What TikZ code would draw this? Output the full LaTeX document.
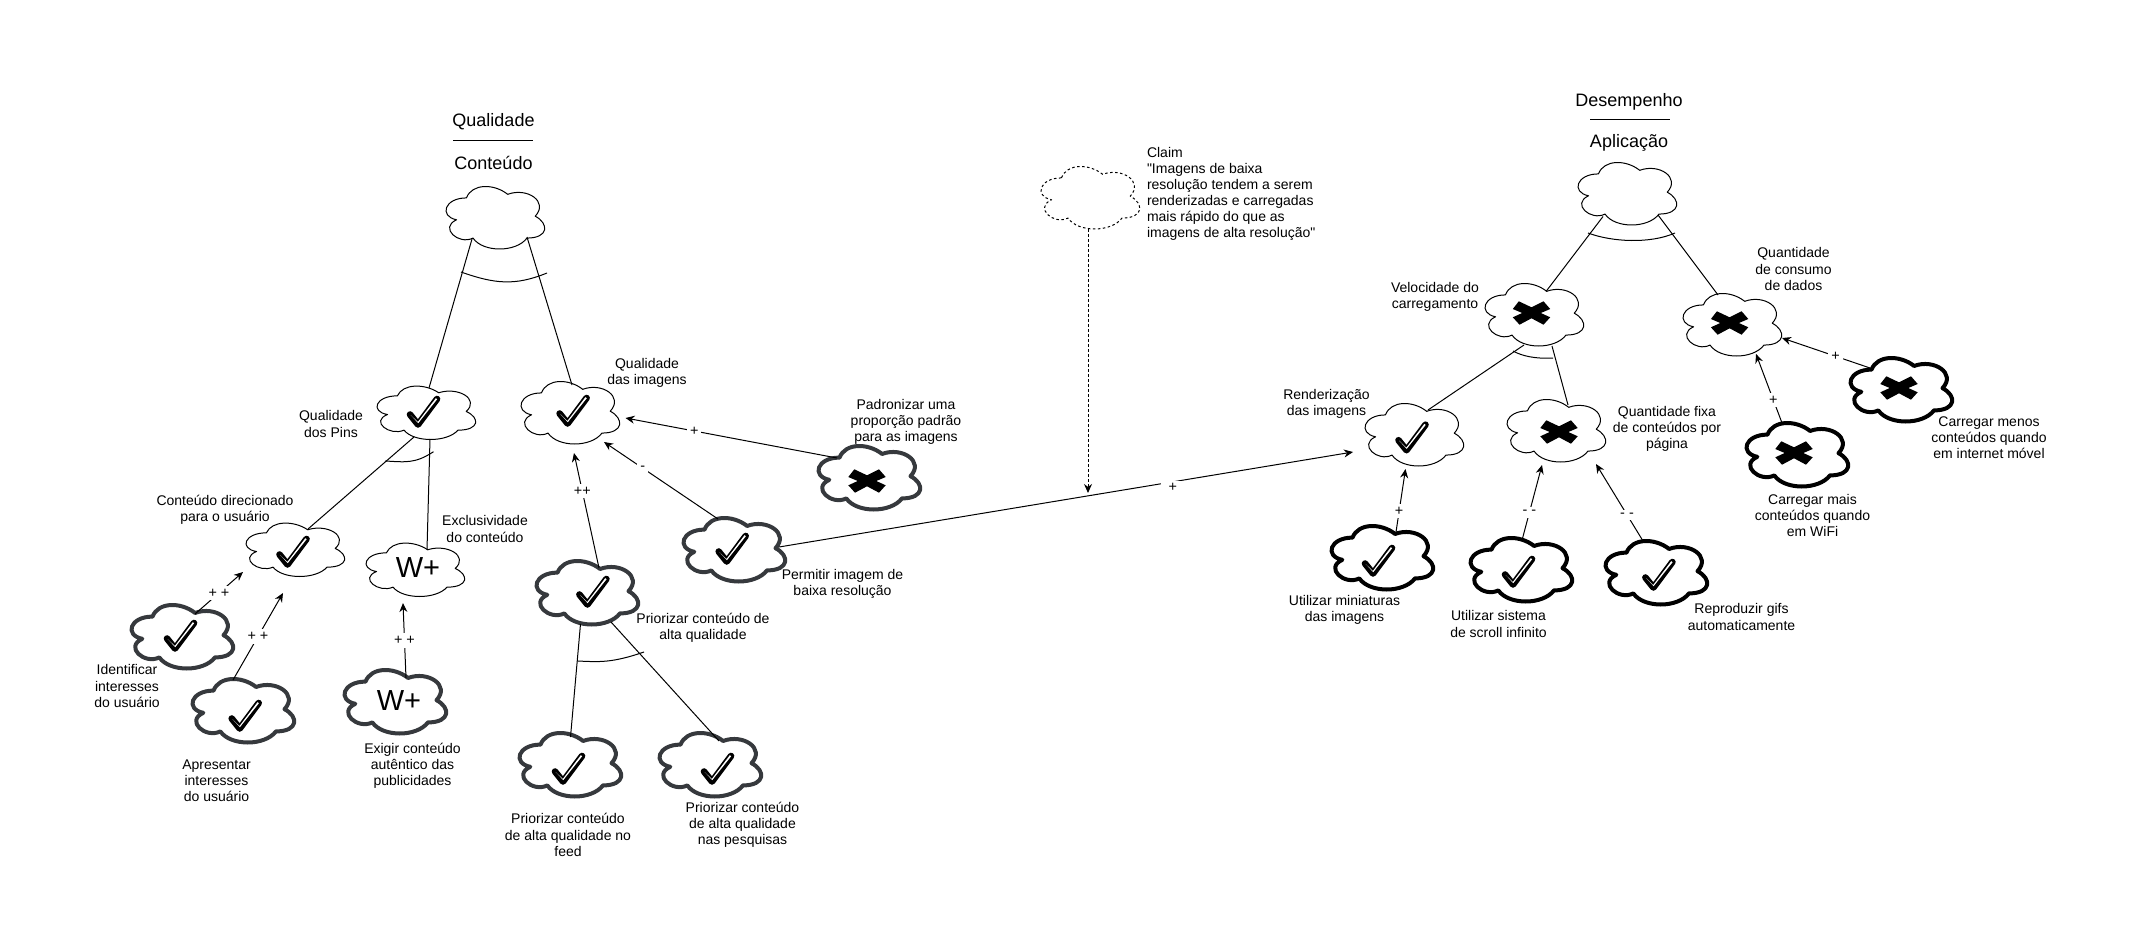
\documentclass[tikz,border=0pt]{standalone}
\usepackage{fontspec}
\setmainfont{Liberation Sans}
\newfontfamily\claimfont{Liberation Sans}
\usetikzlibrary{arrows.meta}
\definecolor{taskgrey}{HTML}{36393D}
\makeatletter
\def\cloudcurve#1#2#3#4#5#6{\pgfpathcurveto{\pgfqpoint{#1pt}{#2pt}}{\pgfqpoint{#3pt}{#4pt}}{\pgfqpoint{#5pt}{#6pt}}}
\pgfdeclareshape{softcloud}{
	\inheritsavedanchors[from=rectangle]
	\inheritanchor[from=rectangle]{center}
	\inheritanchor[from=rectangle]{text}
	\inheritanchorborder[from=rectangle]
	\backgroundpath{
		\southwest \pgf@xa=\pgf@x \pgf@ya=\pgf@y
		\northeast \pgf@xb=\pgf@x \pgf@yb=\pgf@y
		\advance\pgf@xb by-\pgf@xa \pgf@xb=.01\pgf@xb \edef\cloudw{\pgf@sys@tonumber\pgf@xb}
		\advance\pgf@yb by-\pgf@ya \pgf@yb=.01\pgf@yb \edef\cloudh{\pgf@sys@tonumber\pgf@yb}
		{
			\pgftransformshift{\pgfpointlineattime{.5}{\southwest}{\northeast}}
			\pgftransformxscale{\cloudw}
			\pgftransformyscale{\cloudh}
			\pgftransformxshift{1.2pt}
			\pgfpathmoveto{\pgfqpoint{-30.7pt}{32.4pt}}
			\cloudcurve{-53.4}{32.4}{-59.1}{2.9}{-40.9}{-2.9}
			\cloudcurve{-59.1}{-15.9}{-38.6}{-44.1}{-23.9}{-32.4}
			\cloudcurve{-13.6}{-55.9}{20.5}{-55.9}{31.8}{-32.4}
			\cloudcurve{54.5}{-32.4}{54.5}{-8.8}{40.3}{2.9}
			\cloudcurve{54.5}{26.5}{31.8}{50}{11.9}{38.2}
			\cloudcurve{-2.3}{55.9}{-25}{55.9}{-30.7}{32.4}
			\pgfpathclose
		}
	}
}
\makeatother
\tikzset{softgoal/.style = {shape=softcloud, draw, fill=white, line width=1pt, line join=round, inner sep=0pt, minimum width=96pt, minimum height=61pt}}
\tikzset{softlow/.style = {softgoal, minimum height=52pt}}
\tikzset{softclaim/.style = {softgoal, dashed, dash pattern=on 2.5pt off 2.5pt}}
\tikzset{taskleft/.style = {softgoal, draw=taskgrey, line width=4pt, minimum width=96pt, minimum height=59pt}}
\tikzset{taskright/.style = {softgoal, line width=4pt, minimum width=96pt, minimum height=59pt}}
\tikzset{lbl/.style = {align=center, inner sep=0pt, font=\fontsize{14}{16.1}\selectfont}}
\tikzset{heading/.style = {inner sep=0pt, font=\fontsize{18}{20}\selectfont}}
\tikzset{sign/.style = {fill=white, inner sep=3pt, font=\fontsize{14.4}{15}\selectfont}}
\tikzset{bigmark/.style = {inner sep=0pt, font=\fontsize{29}{30}\selectfont}}
\tikzset{tickmark/.pic = {
	\draw[line width=6.6pt, line join=round, line cap=round] (-14,2.5) -- (-6,12.5) -- (13,-13);
	\fill[white] (-13.3,3) -- (-6.2,10) -- (11.8,-13.8) -- (13.2,-12.8) -- (-5.8,11.2) -- cycle;
}}
\tikzset{crossmark/.pic = {
	\fill (-12.7,-11.7) -- (-18.7,-4) -- (-9.3,0) -- (-18.7,4.3) -- (-12,11.7) -- (0,5.3) -- (12,11.7) -- (18.7,4.3) -- (9.3,0) -- (18.7,-4) -- (12,-11.7) -- (0,-5.7) -- cycle;
}}
\begin{document}
\begin{tikzpicture}[x=1pt, y=-1pt, line width=1pt, >={Stealth[length=9pt,width=8pt]}]
	\useasboundingbox (0,0) rectangle (2144,947);
	% Qualidade
	\node [heading] (qual-top) at (493.5,122) {Qualidade};
	\node [heading] (qual-bot) at (493.5,162.5) {Conteúdo};
	\coordinate (qual-a) at (453,141);
	\coordinate (qual-b) at (533,141);
	\draw (qual-a) -- (qual-b);
	\node [softgoal] (root-q) at (495,218) {};
	\node [softlow] (pins) at (426,413) {};
	\node [softgoal] (imgs) at (570,413) {};
	\draw ([shift={(-23,21)}]root-q.center) -- ([shift={(3,-25)}]pins.center);
	\draw ([shift={(32,19)}]root-q.center) -- ([shift={(2,-28)}]imgs.center);
	\draw (461,272) .. controls (495,284) and (515,286) .. (547,273);
	\node [lbl] (pins-txt) at (331,424) {Qualidade\\dos Pins};
	\node [lbl] (imgs-txt) at (647,372.5) {Qualidade\\das imagens};
	% Qualidade dos Pins
	\node [softlow] (direc) at (295,550) {};
	\node [softlow] (excl) at (415,570) {};
	\node [bigmark] (excl-mark) at (418,568) {W+};
	\draw ([shift={(-12,24)}]pins.center) -- ([shift={(13,-21)}]direc.center);
	\draw ([shift={(4,26)}]pins.center) -- ([shift={(12,-20)}]excl.center);
	\draw (385,461) .. controls (405,462) and (415,464) .. (433.5,451.7);
	\node [lbl] (direc-txt) at (225,509.5) {Conteúdo direcionado\\para o usuário};
	\node [lbl] (excl-txt) at (485,529) {Exclusividade\\do conteúdo};
	% Tarefas dos Pins
	\node [taskleft] (ident) at (182,637) {};
	\node [taskleft] (apres) at (243,711) {};
	\node [taskleft] (exig) at (395,702) {};
	\node [bigmark] (exig-mark) at (399,701) {W+};
	\draw[->] ([shift={(13,-23)}]ident.center) -- node[sign] {+ +} ([shift={(-52,22)}]direc.center);
	\draw[->] ([shift={(-10,-31)}]apres.center) -- node[sign] {+ +} ([shift={(-12,43)}]direc.center);
	\draw[->] ([shift={(11,-24)}]exig.center) -- node[sign] {+ +} ([shift={(-12,33)}]excl.center);
	\node [lbl] (ident-txt) at (127,686) {Identificar\\interesses\\do usuário};
	\node [lbl] (apres-txt) at (216.5,781) {Apresentar\\interesses\\do usuário};
	\node [lbl] (exig-txt) at (412.5,766) {Exigir conteúdo\\autêntico das\\publicidades};
	% Qualidade das imagens
	\node [taskleft] (alta) at (587,593) {};
	\node [taskleft] (perm) at (734,550) {};
	\node [taskleft] (padr) at (869,478) {};
	\draw[->] ([shift={(-32,-20)}]padr.center) -- node[sign, pos=.675] {+} ([shift={(55.5,5)}]imgs.center);
	\draw[->] ([shift={(-16,-31)}]perm.center) -- node[sign, pos=.66] {-} ([shift={(34,29)}]imgs.center);
	\draw[->] ([shift={(12,-25)}]alta.center) -- node[sign, pos=.67] {++} ([shift={(4,40)}]imgs.center);
	\node [lbl] (alta-txt) at (703,628) {Priorizar conteúdo de\\alta qualidade};
	\node [lbl] (perm-txt) at (842.5,584) {Permitir imagem de\\baixa resolução};
	\node [lbl] (padr-txt) at (906,421.5) {Padronizar uma\\proporção padrão\\para as imagens};
	% Priorizar conteúdo
	\node [taskleft] (feed) at (570,765) {};
	\node [taskleft] (pesq) at (710,765) {};
	\draw ([shift={(-6.5,31)}]alta.center) -- ([shift={(.5,-28)}]feed.center);
	\draw ([shift={(24,29)}]alta.center) -- ([shift={(9,-24)}]pesq.center);
	\draw (577.5,661) .. controls (600,662) and (612,663) .. (644,652);
	\node [lbl] (feed-txt) at (568,835) {Priorizar conteúdo\\de alta qualidade no\\feed};
	\node [lbl] (pesq-txt) at (742.5,825) {Priorizar conteúdo\\de alta qualidade\\nas pesquisas};
	% Claim
	\node [softclaim] (claim) at (1090,198) {};
	\coordinate (claim-end) at (1088,493);
	\draw[->, dashed, dash pattern=on 2.5pt off 2.5pt] ([shift={(-2,31)}]claim.center) -- (claim-end);
	\node [lbl, align=left, anchor=west] (claim-txt) at (1146.5,194) {\claimfont Claim\\\claimfont "Imagens de baixa\\\claimfont resolução tendem a serem\\\claimfont renderizadas e carregadas\\\claimfont mais rápido do que as\\\claimfont imagens de alta resolução"};
	% Desempenho
	\node [heading] (des-top) at (1629,102) {Desempenho};
	\node [heading] (des-bot) at (1629,143) {Aplicação};
	\coordinate (des-a) at (1590,120);
	\coordinate (des-b) at (1670,120);
	\draw (des-a) -- (des-b);
	\node [softgoal] (root-d) at (1627,194) {};
	\node [softgoal] (veloc) at (1534,315) {};
	\node [softgoal] (cons) at (1732,325) {};
	\draw ([shift={(-24,22.5)}]root-d.center) -- ([shift={(12,-23.5)}]veloc.center);
	\draw ([shift={(31,21)}]root-d.center) -- ([shift={(-14,-30)}]cons.center);
	\draw (1588,233) .. controls (1612,242) and (1650,244) .. (1675,233);
	\node [lbl] (veloc-txt) at (1435,296.5) {Velocidade do\\carregamento};
	\node [lbl] (cons-txt) at (1793.5,269) {Quantidade\\de consumo\\de dados};
	% Velocidade do carregamento
	\node [softgoal] (rend) at (1414,435) {};
	\node [softgoal] (qtd) at (1556,431) {};
	\draw ([shift={(-10,30)}]veloc.center) -- ([shift={(14,-25)}]rend.center);
	\draw ([shift={(18,31)}]veloc.center) -- ([shift={(12,-26)}]qtd.center);
	\draw (1513,351) .. controls (1522,356) and (1535,359) .. (1553,358);
	\node [lbl] (rend-txt) at (1326.5,404) {Renderização\\das imagens};
	\node [lbl] (qtd-txt) at (1667,429) {Quantidade fixa\\de conteúdos por\\página};
	% Tarefas de desempenho
	\node [taskright] (mini) at (1382,558) {};
	\node [taskright] (scroll) at (1521,570) {};
	\node [taskright] (gifs) at (1656,573) {};
	\node [taskright] (mais) at (1797,455) {};
	\node [taskright] (menos) at (1901,390) {};
	\draw[->] ([shift={(45,-3)}]perm.center) -- node[sign, pos=.686, yshift=-6pt, minimum width=24pt] {+} ([shift={(-61,17)}]rend.center);
	\draw[->] ([shift={(14,-26)}]mini.center) -- node[sign, pos=.33] {+} ([shift={(-8.5,34)}]rend.center);
	\draw[->] ([shift={(1.6,-32)}]scroll.center) -- node[sign, pos=.35] {- -} ([shift={(-14,34)}]qtd.center);
	\draw[->] ([shift={(-13,-32)}]gifs.center) -- node[sign, pos=.34] {- -} ([shift={(40,33)}]qtd.center);
	\draw[->] ([shift={(-15,-32)}]mais.center) -- node[sign, pos=.33] {+} ([shift={(24,29)}]cons.center);
	\draw[->] ([shift={(-31,-22)}]menos.center) -- node[sign, pos=.39] {+} ([shift={(50,13)}]cons.center);
	\node [lbl] (mini-txt) at (1344.5,610) {Utilizar miniaturas\\das imagens};
	\node [lbl] (scroll-txt) at (1498.5,624) {Utilizar sistema\\de scroll infinito};
	\node [lbl] (gifs-txt) at (1741.5,617) {Reproduzir gifs\\automaticamente};
	\node [lbl] (mais-txt) at (1812.5,515.5) {Carregar mais\\conteúdos quando\\em WiFi};
	\node [lbl] (menos-txt) at (1989,438) {Carregar menos\\conteúdos quando\\em internet móvel};
	% Marcas
	\foreach \goal/\dx/\dy in {pins/-2/-1, imgs/3.6/-2, direc/-1.5/2, ident/-1/-1, apres/2.7/5, alta/6.4/-1, perm/-1.3/-1, feed/-1/4, pesq/8/4, rend/-1.5/2.7, mini/-3/3, scroll/-2/2, gifs/3.4/2}
		\pic at ([shift={(\dx,\dy)}]\goal.center) {tickmark};
	\foreach \goal/\dx/\dy in {padr/-2/3, veloc/-2.5/-2, cons/-2.4/-2, qtd/3/1, mais/-3/-2, menos/-2/-2}
		\pic at ([shift={(\dx,\dy)}]\goal.center) {crossmark};
\end{tikzpicture}
\end{document}
